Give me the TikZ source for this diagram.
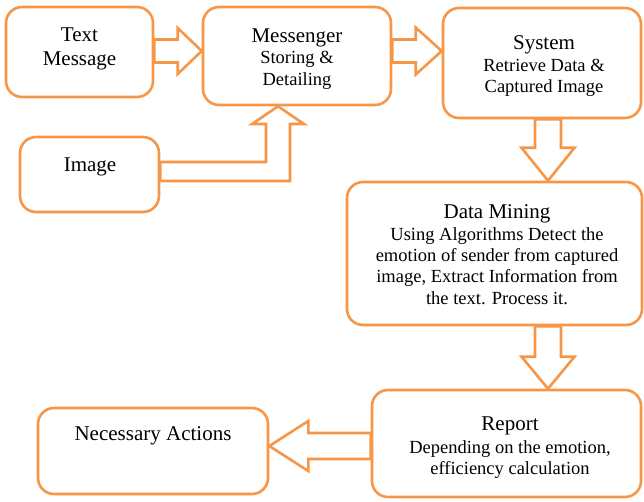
\documentclass[tikz,border=0pt]{standalone}
\usepackage{fontspec}
\setmainfont{Liberation Serif}
\usetikzlibrary{calc}
\definecolor{acc}{RGB}{247,150,70}
\pgfdeclarelayer{bg}
\pgfsetlayers{bg,main}
\tikzset{
 box/.style={draw=acc, line width=2.6pt, rounded corners=16pt, fill=white, inner sep=0pt, rectangle},
 barrow/.style={draw=acc, line width=2.6pt, fill=white, line join=miter},
 ttl/.style={anchor=base, inner sep=0pt, font=\fontsize{21}{25}\selectfont},
 bdy/.style={anchor=base, inner sep=0pt, font=\fontsize{18.5}{22}\selectfont},
}
\newcommand\blkarrow[5]{\draw[barrow] ($(#1)!#3!90:(#2)$) -- ($(#2)!#5!(#1)!#3!-90:(#1)$) -- ($(#2)!#5!(#1)!#4!-90:(#1)$) -- (#2) -- ($(#2)!#5!(#1)!#4!90:(#1)$) -- ($(#2)!#5!(#1)!#3!90:(#1)$) -- ($(#1)!#3!-90:(#2)$) -- cycle;}
\begin{document}
\begin{tikzpicture}[x=1pt,y=-1pt]
\useasboundingbox (0,0) rectangle (644,501);
% boxes
\node[box, minimum width=147pt, minimum height=90pt] (tm) at (79.5,52) {};
\node[box, minimum width=188pt, minimum height=98pt] (ms) at (297,56) {};
\node[box, minimum width=198pt, minimum height=110pt] (sys) at (542,63) {};
\node[box, minimum width=139pt, minimum height=75pt] (img) at (89.5,174.5) {};
\node[box, minimum width=295pt, minimum height=143pt] (dm) at (494.5,253.5) {};
\node[box, minimum width=269pt, minimum height=107pt] (rp) at (506.5,443.5) {};
\node[box, minimum width=230pt, minimum height=86pt] (na) at (153,451) {};
% texts
\node[ttl] (tm1) at (79.5,41) {Text};
\node[ttl] (tm2) at (79.5,65) {Message};
\node[ttl] (ms1) at (297,42) {Messenger};
\node[bdy] (ms2) at (297,63) {Storing \&};
\node[bdy] (ms3) at (297,85) {Detailing};
\node[ttl] (sy1) at (544,49) {System};
\node[bdy] (sy2) at (544,71) {Retrieve Data \&};
\node[bdy] (sy3) at (544,92) {Captured Image};
\node[ttl] (im1) at (90,171) {Image};
\node[ttl] (dm1) at (497,218) {Data Mining};
\node[bdy] (dm2) at (497,240) {Using Algorithms Detect the};
\node[bdy] (dm3) at (497,261.5) {emotion of sender from captured};
\node[bdy] (dm4) at (497,282.5) {image, Extract Information from};
\node[bdy] (dm5) at (497,304) {the text. Process it.};
\node[ttl] (rp1) at (510,430) {Report};
\node[bdy] (rp2) at (510,453) {Depending on the emotion,};
\node[bdy] (rp3) at (510,474) {efficiency calculation};
\node[ttl] (na1) at (153,440) {Necessary Actions};
% helper coordinates
\coordinate (ya) at (0,51);
\coordinate (xa) at (548,0);
\coordinate (yb) at (0,446);
\coordinate (ex) at (278,0);
\coordinate (e1) at (266,162);
\coordinate (e2) at (266,124);
\coordinate (e3) at (252,124);
\coordinate (e5) at (304,124);
\coordinate (e6) at (290,124);
\coordinate (e7) at (290,181);
\begin{pgfonlayer}{bg}
\blkarrow{tm.east |- ya}{ms.west |- ya}{11.5pt}{23pt}{24pt}
\blkarrow{ms.east |- ya}{sys.west |- ya}{11.5pt}{23.5pt}{26pt}
\blkarrow{sys.south -| xa}{dm.north -| xa}{13pt}{26.5pt}{33pt}
\blkarrow{dm.south -| xa}{rp.north -| xa}{13pt}{26.5pt}{32pt}
\blkarrow{rp.west |- yb}{na.east |- yb}{13pt}{25pt}{39pt}
\draw[barrow] (img.east |- e1) -- (e1) -- (e2) -- (e3) -- (ms.south -| ex) -- (e5) -- (e6) -- (e7) -- (img.east |- e7) -- cycle;
\end{pgfonlayer}
\end{tikzpicture}
\end{document}
